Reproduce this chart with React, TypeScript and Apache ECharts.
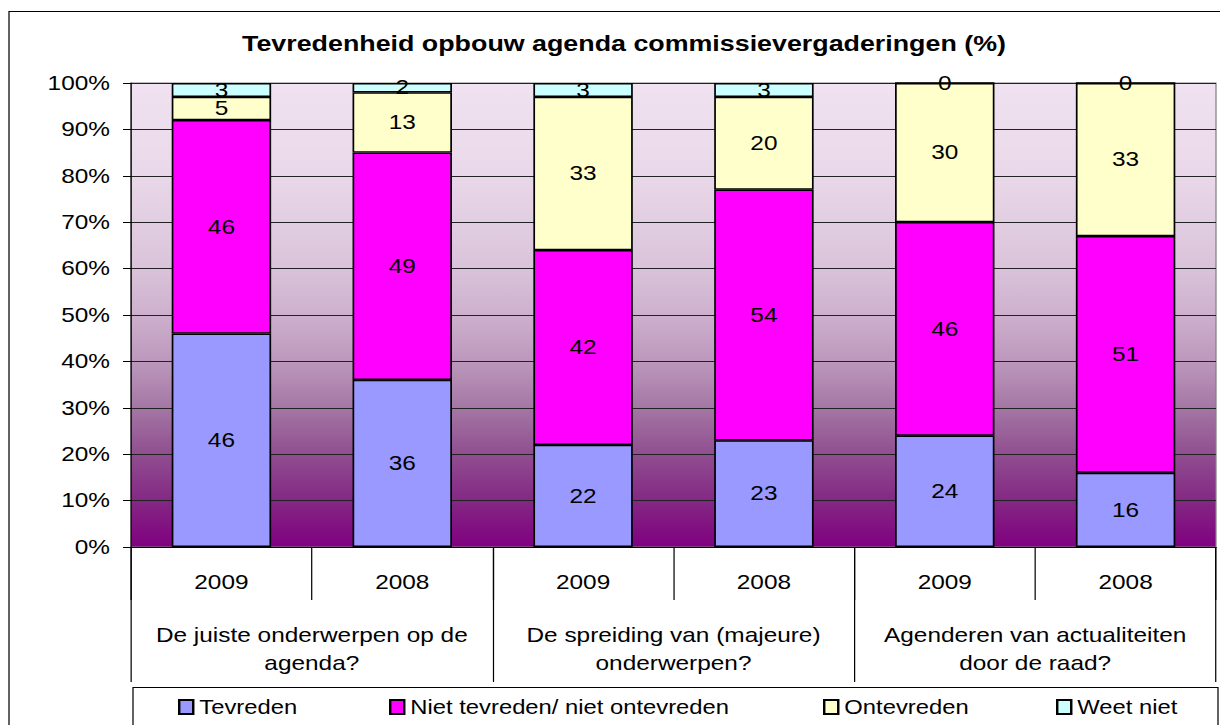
import React, { useEffect, useRef } from "react";
import * as echarts from "echarts";

const years = ["2009", "2008", "2009", "2008", "2009", "2008"];
const groups = [
  "De juiste onderwerpen op de\nagenda?",
  "De spreiding van (majeure)\nonderwerpen?",
  "Agenderen van actualiteiten\ndoor de raad?",
];
const seriesNames = ["Tevreden", "Niet tevreden/ niet ontevreden", "Ontevreden", "Weet niet"];
const tevreden = [46, 36, 22, 23, 24, 16];
const nietTevreden = [46, 49, 42, 54, 46, 51];
const ontevreden = [5, 13, 33, 20, 30, 33];
const weetNiet = [3, 2, 3, 3, 0, 0];
const colors = ["#9999FF", "#FF00FF", "#FFFFCC", "#CCFFFF"];
const title = "Tevredenheid opbouw agenda commissievergaderingen (%)";

const FONT = "'Liberation Sans', Arial, sans-serif";
// the reference rendering is horizontally widened; draw in a narrower space and stretch
const SX = 1.22;
const W = 1220 / SX;
const X = (px: number) => px / SX;

export default function App() {
  const ref = useRef<HTMLDivElement>(null);
  useEffect(() => {
    if (!ref.current) return;
    const chart = echarts.init(ref.current, null, { renderer: "svg" });
    const values = [tevreden, nietTevreden, ontevreden, weetNiet];
    const legendLefts = [178, 389, 823, 1056];
    const option: any = {
      animation: false,
      backgroundColor: "#ffffff",
      textStyle: { fontFamily: FONT },
      grid: {
        left: X(131),
        top: 83,
        right: W - X(1216),
        bottom: 178,
        containLabel: false,
        outerBoundsMode: "none",
        show: true,
        borderColor: "#808080",
        borderWidth: 1,
        backgroundColor: new echarts.graphic.LinearGradient(0, 0, 0, 1, [
          { offset: 0, color: "#F0E2F0" },
          { offset: 0.2, color: "#E9D8E9" },
          { offset: 0.4, color: "#DAC3DA" },
          { offset: 0.5, color: "#CDB0CD" },
          { offset: 0.6, color: "#BC98BC" },
          { offset: 0.7, color: "#A477A4" },
          { offset: 0.8, color: "#904E90" },
          { offset: 0.9, color: "#842884" },
          { offset: 1, color: "#800080" },
        ]),
      },
      legend: seriesNames.map((n, i) => ({
        data: [n],
        left: X(legendLefts[i]),
        top: 697,
        padding: 0,
        icon: "rect",
        itemWidth: 11.5,
        itemHeight: 14,
        itemGap: 8,
        textStyle: { fontFamily: FONT, fontSize: 19.5, color: "#000" },
      })),
      xAxis: [
        {
          type: "category",
          data: years,
          position: "bottom",
          axisLine: { show: true, lineStyle: { color: "#000", width: 1 } },
          axisTick: { show: true, length: 53, interval: 0, lineStyle: { color: "#000" } },
          axisLabel: { interval: 0, margin: 25, fontSize: 20, color: "#000", fontFamily: FONT },
          splitLine: { show: false },
        },
        {
          type: "category",
          data: groups,
          position: "bottom",
          axisLine: { show: false },
          axisTick: { show: true, length: 135, interval: 0, lineStyle: { color: "#000" } },
          axisLabel: {
            interval: 0,
            margin: 74,
            fontSize: 20,
            lineHeight: 28,
            color: "#000",
            fontFamily: FONT,
            align: "center",
          },
          splitLine: { show: false },
        },
      ],
      yAxis: {
        type: "value",
        min: 0,
        max: 100,
        interval: 10,
        axisLine: { show: true, lineStyle: { color: "#000", width: 1 } },
        axisTick: { show: true, length: X(8), lineStyle: { color: "#000" } },
        axisLabel: { formatter: "{value}%", margin: X(21), fontSize: 20, color: "#000", fontFamily: FONT },
        splitLine: { show: true, lineStyle: { color: "#222", width: 1 } },
      },
      series: seriesNames.map((n, i) => ({
        name: n,
        type: "bar",
        stack: "total",
        xAxisIndex: 0,
        barWidth: "55%",
        data: values[i],
        itemStyle: { color: colors[i], borderColor: "#000", borderWidth: 1.4 },
        label: {
          show: true,
          position: "inside",
          fontSize: 20,
          color: "#000",
          fontFamily: FONT,
        },
      })),
      graphic: [
        {
          type: "rect",
          shape: { x: X(9), y: 11.5, width: W, height: 740 },
          style: { fill: "none", stroke: "#000", lineWidth: 1 },
          z: 100,
          silent: true,
        },
        {
          type: "rect",
          shape: { x: X(133), y: 687.5, width: X(1218) - X(133), height: 60 },
          style: { fill: "none", stroke: "#000", lineWidth: 1 },
          z: 100,
          silent: true,
        },
        {
          type: "text",
          x: X(624),
          y: 43,
          style: {
            text: title,
            font: `bold 22px ${FONT}`,
            fill: "#000",
            align: "center",
            verticalAlign: "middle",
          },
          z: 100,
        },
      ],
    };
    chart.setOption(option);
    return () => chart.dispose();
  }, []);
  return (
    <div
      ref={ref}
      style={{
        position: "fixed",
        left: 0,
        top: 0,
        width: W,
        height: 725,
        background: "#fff",
        transform: `scaleX(${SX})`,
        transformOrigin: "0 0",
      }}
    />
  );
}
